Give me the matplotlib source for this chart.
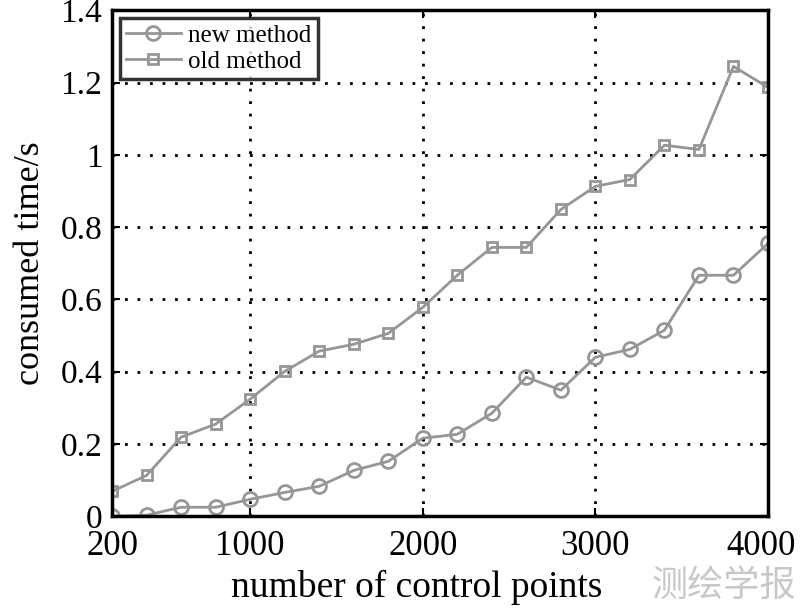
import numpy as np
import matplotlib
matplotlib.use("Agg")
import matplotlib.pyplot as plt
import matplotlib.transforms as mtransforms

plt.rcParams['font.family'] = ['Liberation Serif', 'DejaVu Serif']

points = [200, 400, 600, 800, 1000, 1200, 1400, 1600, 1800, 2000,
          2200, 2400, 2600, 2800, 3000, 3200, 3400, 3600, 3800, 4000]
new_method = [0.0, 0.003, 0.025, 0.025, 0.047, 0.066, 0.083, 0.127, 0.152, 0.216,
              0.227, 0.285, 0.385, 0.349, 0.44, 0.462, 0.515, 0.667, 0.667, 0.755]
old_method = [0.069, 0.113, 0.219, 0.255, 0.324, 0.401, 0.457, 0.476, 0.506, 0.578,
              0.667, 0.744, 0.744, 0.849, 0.913, 0.932, 1.027, 1.015, 1.245, 1.187]
xticks = [200, 1000, 2000, 3000, 4000]
yticks = [0, 0.2, 0.4, 0.6, 0.8, 1, 1.2, 1.4]
yticklabels = ["0", "0.2", "0.4", "0.6", "0.8", "1", "1.2", "1.4"]

fig = plt.figure(figsize=(8, 6.11), dpi=100)
ax = fig.add_axes([0.14, 0.155, 0.82, 0.828])
gray = "#969696"
ax.plot(points, new_method, color=gray, lw=2, marker="o", ms=10, mfc="none", mew=2,
        label="new method")
ax.plot(points, old_method, color=gray, lw=2, marker="s", ms=7.5, mfc="none", mew=2,
        label="old method")

ax.set_xlim(200, 4000)
ax.set_ylim(0, 1.4)
ax.set_xticks(xticks)
ax.set_yticks(yticks)
ax.set_yticklabels(yticklabels)
ax.grid(True, color="black", linestyle=(0, (1, 3.5)), lw=2)
ax.tick_params(direction="in", top=True, right=True, length=6, width=1.5)
ax.tick_params(axis="x", pad=10, labelsize=25)
ax.tick_params(axis="y", pad=7, labelsize=24)
for s in ax.spines.values():
    s.set_linewidth(2.5)

# nudge the last x label in so it stays inside the figure
last = ax.get_xticklabels()[-1]
last.set_transform(last.get_transform() +
                   mtransforms.ScaledTranslation(-7 / 100, 0, fig.dpi_scale_trans))

ax.set_xlabel("number of control points", fontsize=27)
ax.xaxis.set_label_coords(0.465, -0.105)
ax.set_ylabel("consumed time/s", fontsize=26, labelpad=10)

leg = ax.legend(loc="upper left", fontsize=18, frameon=True, fancybox=False,
                borderaxespad=0.3, handlelength=2.2, borderpad=0.25, labelspacing=0.15,
                handletextpad=0.3)
leg.get_frame().set_edgecolor("black")
leg.get_frame().set_linewidth(2.5)

fig.text(0.995, 0.012, "测绘学报", fontsize=26, color="#c8c8c8", ha="right", va="bottom",
         family=["Noto Sans CJK SC", "DejaVu Sans"])

fig.savefig("out.png", dpi=100)
